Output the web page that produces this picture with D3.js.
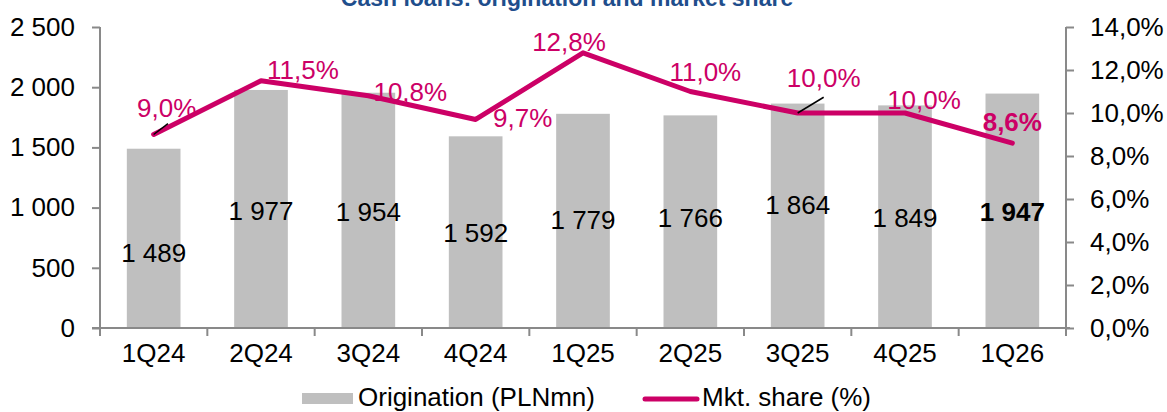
<!DOCTYPE html>
<html>
<head>
<meta charset="utf-8">
<script src="https://cdn.jsdelivr.net/npm/d3@7"></script>
<style>
  body { margin: 0; background: #fff; }
  text { font-family: "Liberation Sans", Arial, sans-serif; }
</style>
</head>
<body>
<div id="chart"></div>
<script>
// data
var quarters = ["1Q24", "2Q24", "3Q24", "4Q24", "1Q25", "2Q25", "3Q25", "4Q25", "1Q26"];
var origination = [1489, 1977, 1954, 1592, 1779, 1766, 1864, 1849, 1947];
var share = [9.0, 11.5, 10.8, 9.7, 12.8, 11.0, 10.0, 10.0, 8.6];
var leftTicks = [0, 500, 1000, 1500, 2000, 2500];
var rightTicks = [0, 2, 4, 6, 8, 10, 12, 14];

// where the value labels sit (left axis units) and how the % labels are nudged
var barLabelAt = [623, 972, 963, 789, 897, 914, 1022, 914, 963];
var shareLabelOff = [[13, -27], [42, -11], [42, -4], [47, -2], [-14, -11], [15, -20], [26, -35], [19, -13], [0, -21]];

var W = 1167, H = 412;
var margin = {top: 27, right: 101, bottom: 84, left: 100},
	width = W - margin.left - margin.right,
	height = H - margin.top - margin.bottom;

var pink = "#cc0066", grey = "#bfbfbf", axisCol = "#898989";
var fs = "26px";

var fmtSpace = function(v) { return d3.format(",")(v).replace(/,/g, " "); };
var fmtPct = function(v) { return d3.format(".1f")(v).replace(".", ",") + "%"; };

var x = d3.scaleBand().domain(quarters).range([0, width]).paddingInner(0.5).paddingOuter(0.25);
var xb = d3.scaleBand().domain(quarters).range([0, width]);
var y = d3.scaleLinear().domain([0, 2500]).range([height, 0]);
var y2 = d3.scaleLinear().domain([0, 14]).range([height, 0]);

var svg = d3.select("#chart").append("svg")
	.attr("width", W).attr("height", H);

// title, cut off at the top as in the original
svg.append("text")
	.attr("x", 567).attr("y", 6)
	.attr("text-anchor", "middle")
	.style("font-size", "23px").style("font-weight", "bold")
	.style("fill", "#1f4e8c")
	.text("Cash loans: origination and market share");

var g = svg.append("g")
	.attr("transform", "translate(" + margin.left + "," + margin.top + ")");

// bars
g.selectAll(".bar").data(origination).enter().append("rect")
	.attr("class", "bar")
	.attr("x", function(d, i) { return x(quarters[i]); })
	.attr("width", x.bandwidth())
	.attr("y", function(d) { return y(d); })
	.attr("height", function(d) { return height - y(d); })
	.attr("fill", grey);

// axes
var leftAxis = g.append("g")
	.call(d3.axisLeft(y).tickValues(leftTicks).tickSize(8).tickPadding(17).tickFormat(fmtSpace));
var rightAxis = g.append("g")
	.attr("transform", "translate(" + width + ",0)")
	.call(d3.axisRight(y2).tickValues(rightTicks).tickSize(8).tickPadding(16).tickFormat(fmtPct));
var bottomAxis = g.append("g")
	.attr("transform", "translate(0," + height + ")")
	.call(d3.axisBottom(xb).tickSize(0).tickPadding(16));

[leftAxis, rightAxis, bottomAxis].forEach(function(a) {
	a.select(".domain").attr("stroke", axisCol).attr("stroke-width", 2);
	a.selectAll(".tick line").attr("stroke", axisCol).attr("stroke-width", 2);
	a.selectAll(".tick text").style("font-size", fs).attr("fill", "#000")
		.style("font-family", "'Liberation Sans', Arial, sans-serif");
});
leftAxis.select(".domain").attr("d", "M0," + height + "V0");
rightAxis.select(".domain").attr("d", "M0," + height + "V0");
bottomAxis.select(".domain").attr("d", "M-8,0H" + (width + 4));

// category boundary ticks on the x axis
g.selectAll(".xtick").data(quarters.concat(["end"])).enter().append("line")
	.attr("x1", function(d, i) { return i * xb.step(); })
	.attr("x2", function(d, i) { return i * xb.step(); })
	.attr("y1", height).attr("y2", height + 8)
	.attr("stroke", axisCol).attr("stroke-width", 2);

// bar value labels
g.selectAll(".blab").data(origination).enter().append("text")
	.attr("x", function(d, i) { return x(quarters[i]) + x.bandwidth() / 2; })
	.attr("y", function(d, i) { return y(barLabelAt[i]); })
	.attr("dy", "0.35em")
	.attr("text-anchor", "middle")
	.style("font-size", fs)
	.style("font-weight", function(d, i) { return i === origination.length - 1 ? "bold" : "normal"; })
	.text(fmtSpace);

// share line
var cx = function(i) { return x(quarters[i]) + x.bandwidth() / 2; };
var line = d3.line()
	.x(function(d, i) { return cx(i); })
	.y(function(d) { return y2(d); });

g.append("path").datum(share)
	.attr("d", line)
	.attr("fill", "none")
	.attr("stroke", pink)
	.attr("stroke-width", 5)
	.attr("stroke-linejoin", "round")
	.attr("stroke-linecap", "round");

// leader lines for two labels
[0, 6].forEach(function(i) {
	var dx = shareLabelOff[i][0], dy = shareLabelOff[i][1];
	g.append("line")
		.attr("x1", cx(i)).attr("y1", y2(share[i]))
		.attr("x2", cx(i) + dx * (i === 0 ? 1.1 : 1)).attr("y2", y2(share[i]) + dy * (i === 0 ? 0.4 : 0.45))
		.attr("stroke", "#000").attr("stroke-width", 1.5);
});

g.selectAll(".slab").data(share).enter().append("text")
	.attr("x", function(d, i) { return cx(i) + shareLabelOff[i][0]; })
	.attr("y", function(d, i) { return y2(d) + shareLabelOff[i][1]; })
	.attr("dy", "0.35em")
	.attr("text-anchor", "middle")
	.style("font-size", fs)
	.style("font-weight", function(d, i) { return i === share.length - 1 ? "bold" : "normal"; })
	.attr("fill", pink)
	.text(fmtPct);

// legend
var leg = svg.append("g").attr("transform", "translate(0,399)");
leg.append("rect").attr("x", 302).attr("y", -6).attr("width", 51).attr("height", 11).attr("fill", grey);
leg.append("text").attr("x", 358).attr("y", 7).style("font-size", fs).text("Origination (PLNmn)");
leg.append("line").attr("x1", 645).attr("x2", 697).attr("y1", 0).attr("y2", 0)
	.attr("stroke", pink).attr("stroke-width", 5).attr("stroke-linecap", "round");
leg.append("text").attr("x", 702).attr("y", 7).style("font-size", fs).text("Mkt. share (%)");
</script>
</body>
</html>
